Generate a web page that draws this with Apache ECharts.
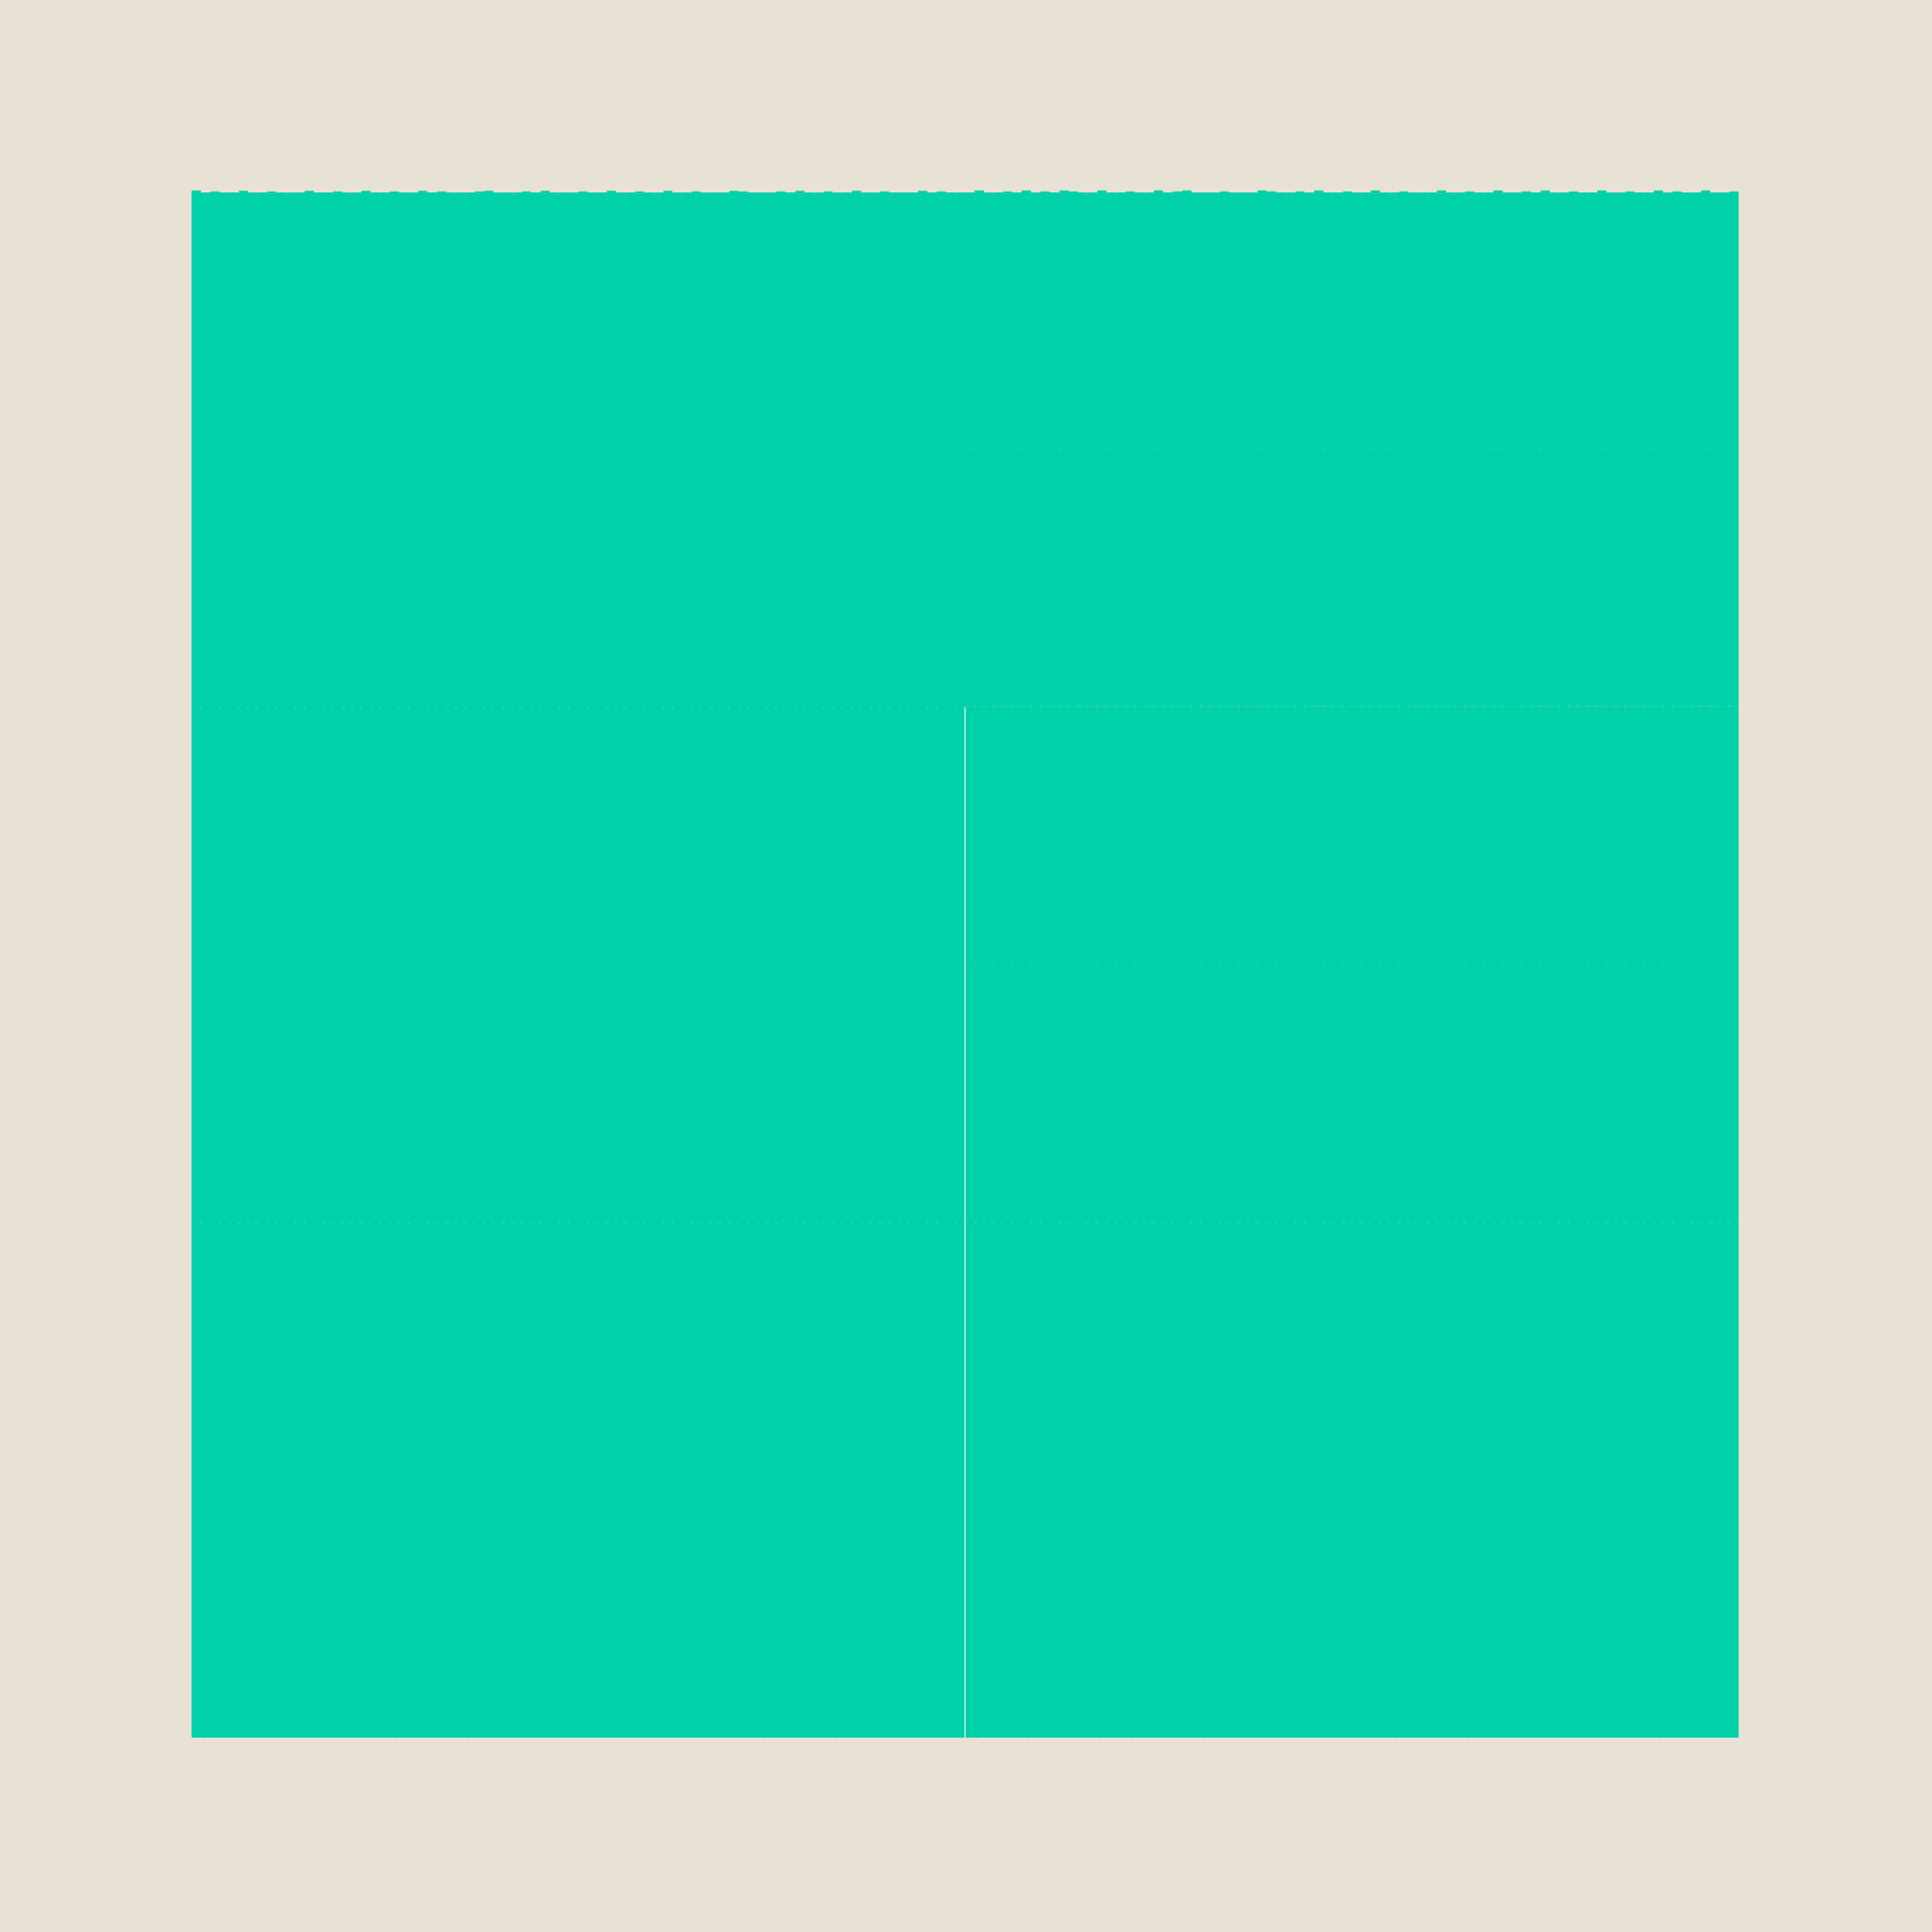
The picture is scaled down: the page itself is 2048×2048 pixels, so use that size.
<!DOCTYPE html>
<html>
<head>
<meta charset="utf-8">
<script src="https://cdn.jsdelivr.net/npm/echarts@6/dist/echarts.min.js"></script>
<style>
  html, body { margin: 0; padding: 0; background: #e8e2d6; }
  #chart { width: 2048px; height: 2048px; }
</style>
</head>
<body>
<div id="chart"></div>
<script>
// 164 strips (82 per half)
const categories = Array.from({ length: 164 }, (_, i) => 'S' + (i + 1));

// bottom band values
const lowValues = [
  1.000,1.000,1.000,1.000,1.000,1.000,1.000,1.000,1.000,1.000,
  1.000,1.000,1.000,1.000,1.000,1.000,1.000,1.000,1.000,1.000,
  1.000,1.000,1.000,1.000,1.000,1.000,1.000,1.000,1.000,1.000,
  1.000,1.000,1.000,1.000,1.000,1.000,1.000,1.000,1.000,1.000,
  1.000,1.000,1.000,1.000,1.000,1.000,1.000,1.000,1.000,1.000,
  1.000,1.000,1.000,1.000,1.000,1.000,1.000,1.000,1.000,1.000,
  1.000,1.000,1.000,1.000,1.000,1.000,1.000,1.000,1.000,1.000,
  1.000,1.000,1.000,1.000,1.000,1.000,1.000,1.000,1.000,1.000,
  1.000,1.000,
  1.000,1.000,1.000,1.000,1.000,1.000,1.000,1.000,1.000,1.000,
  1.000,1.000,1.000,1.000,1.000,1.000,1.000,1.000,1.000,1.000,
  1.000,1.000,1.000,1.000,1.000,1.000,1.000,1.000,1.000,1.000,
  1.000,1.000,1.000,1.000,1.000,1.000,1.000,1.000,1.000,1.000,
  1.000,1.000,1.000,1.000,1.000,1.000,1.000,1.000,1.000,1.000,
  1.000,1.000,1.000,1.000,1.000,1.000,1.000,1.000,1.000,1.000,
  1.000,1.000,1.000,1.000,1.000,1.000,1.000,1.000,1.000,1.000,
  1.000,1.000,1.000,1.000,1.000,1.000,1.000,1.000,1.000,1.000,
  1.000,1.000
];

// middle band values
const midValues = [
  1.000,1.000,1.000,1.000,1.000,1.000,1.000,1.000,1.000,1.000,
  1.000,1.000,1.000,1.000,1.000,1.000,1.000,1.000,1.000,1.000,
  1.000,1.000,1.000,1.000,1.000,1.000,1.000,1.000,1.000,1.000,
  1.000,1.000,1.000,1.000,1.000,1.000,1.000,1.000,1.000,1.000,
  1.000,1.000,1.000,1.000,1.000,1.000,1.000,1.000,1.000,1.000,
  1.000,1.000,1.000,1.000,1.000,1.000,1.000,1.000,1.000,1.000,
  1.000,1.000,1.000,1.000,1.000,1.000,1.000,1.000,1.000,1.000,
  1.000,1.000,1.000,1.000,1.000,1.000,1.000,1.000,1.000,1.000,
  1.000,1.000,
  1.002,1.002,1.002,1.002,1.002,1.002,1.002,1.002,1.002,1.002,
  1.002,1.002,1.002,1.002,1.002,1.002,1.002,1.002,1.002,1.002,
  1.002,1.002,1.002,1.002,1.002,1.002,1.002,1.002,1.002,1.002,
  1.002,1.002,1.002,1.002,1.002,1.002,1.002,1.002,1.002,1.002,
  1.002,1.002,1.002,1.002,1.002,1.002,1.002,1.002,1.002,1.002,
  1.002,1.002,1.002,1.002,1.002,1.002,1.002,1.002,1.002,1.002,
  1.002,1.002,1.002,1.002,1.002,1.002,1.002,1.002,1.002,1.002,
  1.002,1.002,1.002,1.002,1.002,1.002,1.002,1.002,1.002,1.002,
  1.002,1.002
];

// top band values
const topValues = [
  1.004,1.000,1.002,1.000,1.000,1.003,1.000,1.000,1.002,1.000,
  1.000,1.000,1.003,1.000,1.000,1.002,1.000,1.000,1.003,1.000,
  1.000,1.002,1.000,1.000,1.003,1.000,1.002,1.000,1.000,1.000,
  1.002,1.003,1.000,1.000,1.000,1.002,1.000,1.003,1.000,1.000,
  1.000,1.002,1.000,1.000,1.003,1.000,1.000,1.002,1.000,1.000,
  1.003,1.000,1.000,1.002,1.000,1.000,1.000,1.003,1.002,1.000,
  1.000,1.000,1.002,1.000,1.003,1.000,1.000,1.002,1.000,1.000,
  1.003,1.000,1.000,1.002,1.000,1.000,1.000,1.003,1.000,1.002,
  1.000,1.000,
  0.998,1.002,0.998,0.998,1.000,0.998,1.002,0.998,1.000,0.998,
  1.002,1.000,0.998,0.998,1.002,0.998,0.998,1.000,0.998,0.998,
  1.002,0.998,1.000,1.002,0.998,0.998,0.998,1.000,0.998,0.998,
  0.998,1.002,1.000,0.998,0.998,1.000,0.998,1.002,0.998,0.998,
  1.000,0.998,0.998,1.002,0.998,0.998,1.000,0.998,0.998,0.998,
  1.002,0.998,0.998,1.000,0.998,0.998,1.002,0.998,0.998,1.000,
  0.998,1.002,0.998,0.998,1.000,0.998,0.998,1.002,0.998,0.998,
  1.000,0.998,0.998,1.002,0.998,1.000,0.998,0.998,1.002,0.998,
  0.998,1.000
];

// divider between the two halves, spanning the lower two bands
const dividerPoints = [[82, 0], [82, 2]];

const chart = echarts.init(document.getElementById('chart'), null, { renderer: 'canvas' });

const barStyle = { color: '#00d1a8', borderColor: '#00d1a8', borderWidth: 1 };

chart.setOption({
  backgroundColor: '#e8e2d6',
  animation: false,
  grid: { left: 203, top: 204, width: 1640, height: 1638 },
  xAxis: [
    {
      type: 'category',
      data: categories,
      boundaryGap: true,
      show: false
    },
    {
      type: 'value',
      min: 0,
      max: 164,
      show: false,
      splitLine: { show: false }
    }
  ],
  yAxis: {
    type: 'value',
    min: 0,
    max: 3,
    show: false,
    splitLine: { show: false }
  },
  series: [
    { name: 'low', type: 'bar', stack: 'all', z: 2, data: lowValues, barCategoryGap: '0%', clip: false, itemStyle: barStyle },
    { name: 'mid', type: 'bar', stack: 'all', z: 2, data: midValues, barCategoryGap: '0%', clip: false, itemStyle: barStyle },
    { name: 'top', type: 'bar', stack: 'all', z: 2, data: topValues, barCategoryGap: '0%', clip: false, itemStyle: barStyle },
    {
      name: 'divider', type: 'line', xAxisIndex: 1, yAxisIndex: 0, z: 3,
      data: dividerPoints, symbol: 'none', silent: true,
      lineStyle: { color: '#f4f1e8', width: 1.2 }
    }
  ]
});
</script>
</body>
</html>
